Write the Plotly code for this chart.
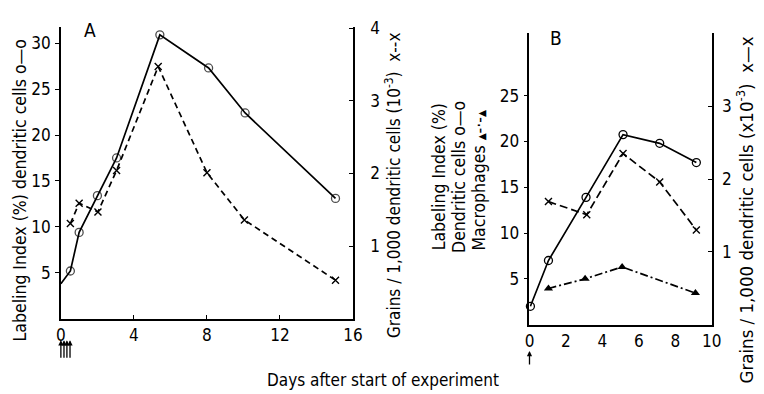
import plotly.graph_objects as go

# ---------------- data ----------------
# Panel A
a_dc_days = [0, 0.52, 1.0, 2.0, 3.05, 5.42, 8.09, 10.09, 15.04]
a_dc_label = [3.8, 5.2, 9.4, 13.4, 17.5, 30.9, 27.3, 22.4, 13.1]
a_gr_days = [0.52, 1.0, 2.03, 3.05, 5.33, 8.0, 10.05, 15.04]
a_grains = [1.31, 1.59, 1.47, 2.04, 3.47, 2.01, 1.36, 0.53]
a_injections = [0, 0.17, 0.33, 0.5]

# Panel B
b_dc_days = [0.05, 1.04, 3.1, 5.13, 7.14, 9.15]
b_dc_label = [2.0, 7.0, 13.9, 20.75, 19.8, 17.7]
b_gr_days = [1.04, 3.14, 5.13, 7.14, 9.15]
b_grains = [1.69, 1.51, 2.35, 1.96, 1.30]
b_mac_days = [1.04, 3.05, 5.08, 9.1]
b_mac_label = [3.95, 5.0, 6.3, 3.44]
b_injections = [0]

a_xticks = [0, 4, 8, 12, 16]
a_yticks = [5, 10, 15, 20, 25, 30]
a_y2ticks = [1, 2, 3, 4]
b_xticks = [0, 2, 4, 6, 8, 10]
b_yticks = [5, 10, 15, 20, 25]
b_y2ticks = [1, 2, 3]

W, H = 764, 394
FONT = "Liberation Sans Narrow, DejaVu Sans Condensed, Arial Narrow, sans-serif"

def px(x):
    return x / W

def py(y):
    return 1 - y / H

fig = go.Figure()

circ = dict(symbol="circle-open", size=8, color="black", line=dict(width=1.3, color="black"))
cross = dict(symbol="x-thin-open", size=7, color="black", line=dict(width=1.4, color="black"))
tri = dict(symbol="triangle-up", size=8, color="black")

# Panel A traces
fig.add_trace(go.Scatter(x=a_dc_days, y=a_dc_label, xaxis="x", yaxis="y", mode="lines+markers",
                         line=dict(color="black", width=1.7),
                         marker=dict(circ, size=[0] + [8] * (len(a_dc_days) - 1)),
                         cliponaxis=False, showlegend=False))
fig.add_trace(go.Scatter(x=a_gr_days, y=a_grains, xaxis="x", yaxis="y2", mode="lines+markers",
                         line=dict(color="black", width=1.7, dash="6px,4px"),
                         marker=cross, showlegend=False))
# Panel B traces
fig.add_trace(go.Scatter(x=b_dc_days, y=b_dc_label, xaxis="x2", yaxis="y3", mode="lines+markers",
                         line=dict(color="black", width=1.7), marker=circ,
                         cliponaxis=False, showlegend=False))
fig.add_trace(go.Scatter(x=b_gr_days, y=b_grains, xaxis="x2", yaxis="y4", mode="lines+markers",
                         line=dict(color="black", width=1.7, dash="8px,4px"),
                         marker=cross, showlegend=False))
fig.add_trace(go.Scatter(x=b_mac_days, y=b_mac_label, xaxis="x2", yaxis="y3", mode="lines+markers",
                         line=dict(color="black", width=1.7, dash="8px,3px,2px,3px"),
                         marker=tri, showlegend=False))

axis_common = dict(showline=True, linecolor="black", linewidth=1.6, showgrid=False,
                   zeroline=False, ticklen=4, tickcolor="black", tickwidth=1.3,
                   tickfont=dict(size=17, color="black", family=FONT))

fig.update_layout(
    width=W, height=H, margin=dict(l=0, r=0, t=0, b=0),
    paper_bgcolor="white", plot_bgcolor="white",
    font=dict(family=FONT, color="black", size=15),
    xaxis=dict(axis_common, domain=[px(57), px(355)], range=[0, 16], anchor="y",
               tickvals=a_xticks, ticks="inside", ticklabelstandoff=0),
    yaxis=dict(axis_common, domain=[py(317), py(18)], range=[0, 31.8], anchor="x",
               tickvals=a_yticks, ticks="outside", ticklabelstandoff=1),
    yaxis2=dict(axis_common, overlaying="y", side="right", anchor="x", range=[0, 4.02],
                tickvals=a_y2ticks, ticks="inside", ticklabelstandoff=12),
    xaxis2=dict(axis_common, domain=[px(535), px(721)], range=[0, 10], anchor="y3",
                tickvals=b_xticks, ticks="", ticklabelstandoff=0),
    yaxis3=dict(axis_common, domain=[py(323), py(25)], range=[0, 31.8], anchor="x2",
                tickvals=b_yticks, ticks="outside", ticklabelstandoff=1),
    yaxis4=dict(axis_common, overlaying="y3", side="right", anchor="x2", range=[0, 4],
                tickvals=b_y2ticks, ticks="inside", ticklabelstandoff=5),
)

ann = []
def text(x, y, t, angle=0, size=15):
    ann.append(dict(x=px(x), y=py(y), xref="paper", yref="paper", text=t, showarrow=False,
                    textangle=angle, xanchor="center", yanchor="middle",
                    font=dict(size=size, family=FONT, color="black")))

small_tri = "<span style='font-size:10px'>▲</span>"
text(87, 22, "A", size=19)
text(562, 30, "B", size=19)
text(15, 186, "Labeling Index (%) dendritic cells o—o", -90, size=17.5)
text(396, 180, "Grains / 1,000 dendritic cells (10<sup>-3</sup>)  x--x", -90, size=17)
text(443, 172, "Labeling Index (%)", -90, size=17.5)
text(463, 172, "Dendritic cells o—o", -90, size=17.5)
text(483, 176, "Macrophages " + small_tri + "-·-" + small_tri, -90, size=17.5)
text(755, 206, "Grains / 1,000 dendritic cells (x10<sup>-3</sup>)  x—x", -90, size=18.5)
text(386, 380, "Days after start of experiment", size=17)

for d in a_injections:
    ann.append(dict(x=d, y=py(339), xref="x", yref="paper", text="", showarrow=True,
                    arrowhead=2, arrowsize=0.8, arrowwidth=1.3, arrowcolor="black",
                    axref="pixel", ayref="pixel", ax=0, ay=19))
for d in b_injections:
    ann.append(dict(x=d, y=py(350), xref="x2", yref="paper", text="", showarrow=True,
                    arrowhead=2, arrowsize=0.8, arrowwidth=1.3, arrowcolor="black",
                    axref="pixel", ayref="pixel", ax=0, ay=15))
fig.update_layout(annotations=ann)

fig.write_html("out.html")
